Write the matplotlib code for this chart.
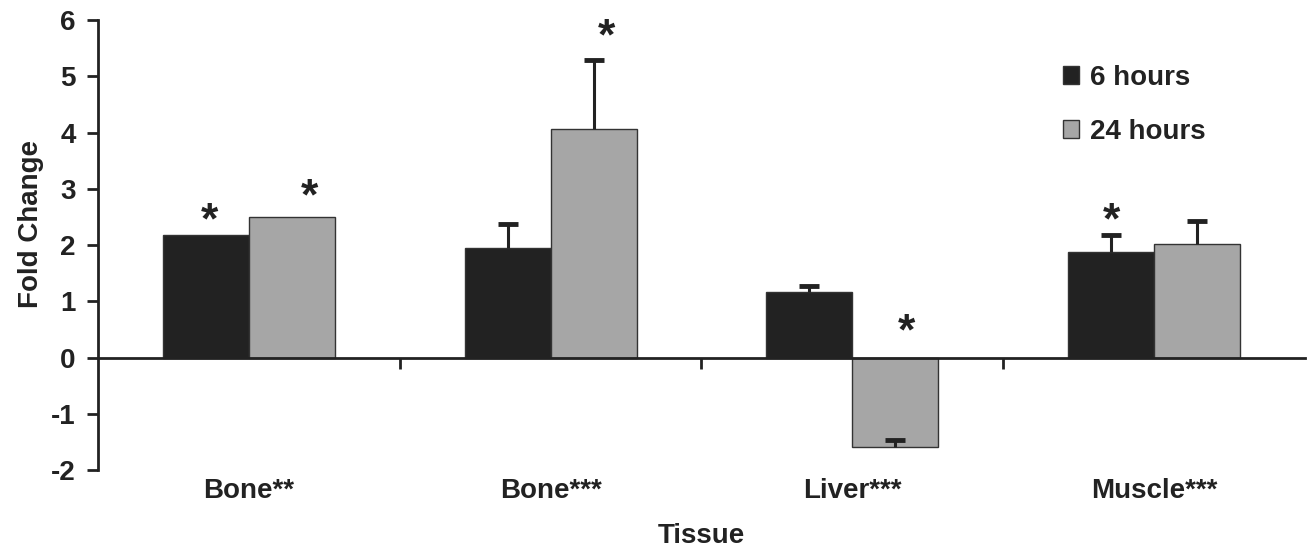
import numpy as np
from matplotlib import pyplot as plt

plt.rcParams['font.family'] = ['Liberation Sans', 'DejaVu Sans']
plt.rcParams['font.weight'] = 'bold'
plt.rcParams['axes.unicode_minus'] = False

tissues = ['Bone**', 'Bone***', 'Liver***', 'Muscle***']
h6 = [2.18, 1.94, 1.17, 1.88]
h24 = [2.49, 4.07, -1.59, 2.01]
err6 = [0, 0.43, 0.11, 0.29]
err24 = [0, 1.21, 0.13, 0.41]
# 星号位置 (x, y)
star_x = [0.37, 0.70, 1.685, 2.68, 3.36]
star_y = [2.41, 2.84, 5.68, 0.43, 2.41]

fig = plt.figure(figsize=(13.16, 5.55), dpi=100)
ax = fig.add_axes([0.0745, 0.153, 0.917, 0.811])

x = np.arange(len(tissues)) + 0.5
w = 0.285
dark = '#222222'

ax.bar(x - w / 2, h6, w, color=dark, edgecolor='#333333', linewidth=1, label='6 hours', zorder=2)
ax.bar(x + w / 2, h24, w, color='#a6a6a6', edgecolor='#333333', linewidth=1, label='24 hours', zorder=2)

# 误差线 (只画单侧, 上方加横帽)
for xs, h, e in [(x - w / 2, h6, err6), (x + w / 2, h24, err24)]:
    h = np.array(h)
    e = np.array(e)
    m = e > 0
    ax.vlines(xs[m], h[m], h[m] + e[m], color=dark, linewidth=2.2, zorder=3)
    ax.plot(xs[m], h[m] + e[m], ls='none', marker='_', markersize=14, mew=3.5, color=dark, zorder=3)

for sx, sy in zip(star_x, star_y):
    ax.text(sx, sy, '*', ha='center', va='center', fontsize=32, color=dark)

# 坐标轴
ax.set_xlim(0, 4)
ax.set_ylim(-2, 6)
ax.set_yticks(range(-2, 7))
ax.spines['top'].set_visible(False)
ax.spines['right'].set_visible(False)
ax.spines['bottom'].set_position(('data', 0))
ax.spines['left'].set_linewidth(2)
ax.spines['bottom'].set_linewidth(2)
for sp in ['left', 'bottom']:
    ax.spines[sp].set_color(dark)
ax.set_xticks([1, 2, 3])
ax.set_xticklabels([])
ax.tick_params(axis='both', direction='out', length=8, width=2, color=dark)
ax.tick_params(axis='y', labelsize=20, labelcolor=dark, pad=8)

for xi, t in zip(x, tissues):
    ax.text(xi, -0.018, t, transform=ax.get_xaxis_transform(), ha='center', va='top',
            fontsize=20, color=dark)

ax.set_ylabel('Fold Change', fontsize=20, fontweight='bold', color=dark)
ax.yaxis.set_label_coords(-0.045, 0.547)
fig.text(0.5 * (0.0745 + 0.9915), 0.034, 'Tissue', ha='center', va='center', fontsize=20, color=dark)

ax.legend(loc='upper left', bbox_to_anchor=(0.79, 0.925), frameon=False, fontsize=20,
          handlelength=0.6, handleheight=0.6, handletextpad=0.4, labelspacing=1.0,
          borderaxespad=0, labelcolor=dark)

plt.savefig('out.png', dpi=100)
